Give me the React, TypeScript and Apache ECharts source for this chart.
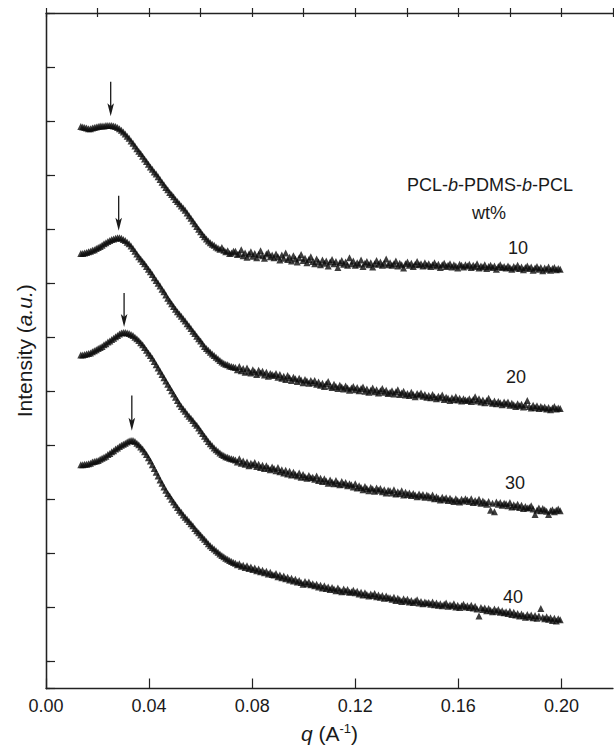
import React, { useEffect, useRef } from 'react';
import * as echarts from 'echarts';

// q values (Å^-1)
const Q = [
  0.01350, 0.01425, 0.01500, 0.01575, 0.01650, 0.01725, 0.01800, 0.01875, 0.01950, 0.02025, 0.02100, 0.02175, 0.02250, 0.02325, 0.02400, 0.02475, 0.02550, 0.02625, 0.02700, 0.02775,
  0.02850, 0.02925, 0.03000, 0.03075, 0.03150, 0.03225, 0.03300, 0.03375, 0.03450, 0.03525, 0.03600, 0.03675, 0.03750, 0.03825, 0.03900, 0.03975, 0.04050, 0.04125, 0.04200, 0.04275,
  0.04350, 0.04425, 0.04500, 0.04575, 0.04650, 0.04725, 0.04800, 0.04875, 0.04950, 0.05025, 0.05100, 0.05175, 0.05250, 0.05325, 0.05400, 0.05475, 0.05550, 0.05625, 0.05700, 0.05775,
  0.05850, 0.05925, 0.06000, 0.06075, 0.06150, 0.06225, 0.06300, 0.06375, 0.06450, 0.06525, 0.06600, 0.06675, 0.06750, 0.06825, 0.06900, 0.06975, 0.07050, 0.07125, 0.07200, 0.07275,
  0.07350, 0.07425, 0.07500, 0.07575, 0.07650, 0.07725, 0.07800, 0.07875, 0.07950, 0.08025, 0.08100, 0.08175, 0.08250, 0.08325, 0.08400, 0.08475, 0.08550, 0.08625, 0.08700, 0.08775,
  0.08850, 0.08925, 0.09000, 0.09075, 0.09150, 0.09225, 0.09300, 0.09375, 0.09450, 0.09525, 0.09600, 0.09675, 0.09750, 0.09825, 0.09900, 0.09975, 0.10050, 0.10125, 0.10200, 0.10275,
  0.10350, 0.10425, 0.10500, 0.10575, 0.10650, 0.10725, 0.10800, 0.10875, 0.10950, 0.11025, 0.11100, 0.11175, 0.11250, 0.11325, 0.11400, 0.11475, 0.11550, 0.11625, 0.11700, 0.11775,
  0.11850, 0.11925, 0.12000, 0.12075, 0.12150, 0.12225, 0.12300, 0.12375, 0.12450, 0.12525, 0.12600, 0.12675, 0.12750, 0.12825, 0.12900, 0.12975, 0.13050, 0.13125, 0.13200, 0.13275,
  0.13350, 0.13425, 0.13500, 0.13575, 0.13650, 0.13725, 0.13800, 0.13875, 0.13950, 0.14025, 0.14100, 0.14175, 0.14250, 0.14325, 0.14400, 0.14475, 0.14550, 0.14625, 0.14700, 0.14775,
  0.14850, 0.14925, 0.15000, 0.15075, 0.15150, 0.15225, 0.15300, 0.15375, 0.15450, 0.15525, 0.15600, 0.15675, 0.15750, 0.15825, 0.15900, 0.15975, 0.16050, 0.16125, 0.16200, 0.16275,
  0.16350, 0.16425, 0.16500, 0.16575, 0.16650, 0.16725, 0.16800, 0.16875, 0.16950, 0.17025, 0.17100, 0.17175, 0.17250, 0.17325, 0.17400, 0.17475, 0.17550, 0.17625, 0.17700, 0.17775,
  0.17850, 0.17925, 0.18000, 0.18075, 0.18150, 0.18225, 0.18300, 0.18375, 0.18450, 0.18525, 0.18600, 0.18675, 0.18750, 0.18825, 0.18900, 0.18975, 0.19050, 0.19125, 0.19200, 0.19275,
  0.19350, 0.19425, 0.19500, 0.19575, 0.19650, 0.19725, 0.19800, 0.19875, 0.19950,
];

// Intensity (a.u., curves shifted vertically) for each wt%
const I10 = [
  10.40, 10.39, 10.38, 10.37, 10.36, 10.36, 10.37, 10.38, 10.39, 10.40, 10.41, 10.41, 10.41, 10.42, 10.42, 10.42, 10.42, 10.41, 10.40, 10.38,
  10.36, 10.33, 10.30, 10.26, 10.22, 10.18, 10.13, 10.09, 10.04, 9.99, 9.94, 9.90, 9.85, 9.80, 9.75, 9.70, 9.65, 9.61, 9.56, 9.52,
  9.47, 9.42, 9.37, 9.32, 9.27, 9.23, 9.18, 9.14, 9.10, 9.05, 9.01, 8.97, 8.93, 8.89, 8.85, 8.80, 8.75, 8.70, 8.65, 8.60,
  8.55, 8.50, 8.45, 8.40, 8.36, 8.32, 8.28, 8.25, 8.22, 8.20, 8.17, 8.15, 8.13, 8.16, 8.11, 8.08, 8.10, 8.05, 8.06, 8.09,
  8.09, 8.03, 8.05, 8.12, 8.01, 8.06, 7.98, 8.04, 8.08, 8.00, 8.05, 7.97, 8.03, 8.10, 8.01, 7.96, 8.04, 8.07, 7.99, 8.02,
  7.97, 8.04, 7.99, 7.93, 8.02, 7.96, 8.06, 7.94, 7.98, 7.91, 8.01, 7.95, 7.89, 7.97, 8.03, 7.92, 7.96, 7.88, 7.94, 7.99,
  7.90, 7.86, 7.95, 7.89, 7.84, 7.93, 7.87, 7.91, 7.82, 7.89, 7.94, 7.86, 7.90, 7.79, 7.88, 7.92, 7.85, 7.89, 7.83, 7.97,
  7.86, 7.91, 7.83, 7.88, 7.85, 7.93, 7.81, 7.87, 7.90, 7.84, 7.88, 7.80, 7.86, 7.92, 7.85, 7.89, 7.83, 7.87, 7.95, 7.84,
  7.88, 7.83, 7.86, 7.91, 7.82, 7.87, 7.84, 7.78, 7.86, 7.89, 7.83, 7.87, 7.81, 7.85, 7.90, 7.84, 7.86, 7.82, 7.88, 7.83,
  7.86, 7.81, 7.84, 7.88, 7.82, 7.85, 7.79, 7.84, 7.87, 7.81, 7.83, 7.86, 7.80, 7.84, 7.82, 7.78, 7.85, 7.83, 7.80, 7.84,
  7.82, 7.85, 7.79, 7.83, 7.81, 7.86, 7.78, 7.82, 7.80, 7.84, 7.77, 7.81, 7.83, 7.79, 7.82, 7.76, 7.81, 7.84, 7.79, 7.81,
  7.78, 7.82, 7.79, 7.76, 7.81, 7.78, 7.83, 7.77, 7.80, 7.75, 7.79, 7.82, 7.77, 7.80, 7.74, 7.78, 7.81, 7.76, 7.79, 7.73,
  7.78, 7.76, 7.80, 7.74, 7.77, 7.79, 7.75, 7.77, 7.76,
];

const I20 = [
  8.05, 8.05, 8.06, 8.07, 8.08, 8.09, 8.11, 8.12, 8.14, 8.16, 8.18, 8.20, 8.23, 8.25, 8.27, 8.29, 8.31, 8.32, 8.33, 8.34,
  8.34, 8.33, 8.31, 8.29, 8.26, 8.23, 8.19, 8.14, 8.09, 8.04, 7.99, 7.95, 7.90, 7.86, 7.81, 7.76, 7.71, 7.66, 7.60, 7.55,
  7.50, 7.45, 7.39, 7.34, 7.28, 7.22, 7.17, 7.12, 7.07, 7.02, 6.97, 6.93, 6.89, 6.84, 6.80, 6.75, 6.71, 6.66, 6.61, 6.57,
  6.52, 6.47, 6.43, 6.38, 6.33, 6.29, 6.26, 6.22, 6.19, 6.16, 6.13, 6.10, 6.07, 6.04, 6.02, 6.00, 5.99, 5.97, 5.96, 5.95,
  5.94, 5.90, 5.96, 5.88, 5.92, 5.85, 5.93, 5.87, 5.84, 5.90, 5.86, 5.81, 5.89, 5.84, 5.87, 5.80, 5.85, 5.78, 5.83, 5.81,
  5.79, 5.83, 5.76, 5.81, 5.74, 5.78, 5.72, 5.79, 5.75, 5.70, 5.76, 5.73, 5.68, 5.74, 5.71, 5.66, 5.72, 5.69, 5.65, 5.70,
  5.66, 5.70, 5.63, 5.67, 5.61, 5.65, 5.59, 5.64, 5.68, 5.60, 5.57, 5.63, 5.59, 5.55, 5.61, 5.58, 5.54, 5.60, 5.56, 5.52,
  5.56, 5.59, 5.53, 5.57, 5.51, 5.55, 5.58, 5.50, 5.54, 5.48, 5.52, 5.56, 5.49, 5.53, 5.47, 5.51, 5.55, 5.48, 5.52, 5.46,
  5.48, 5.51, 5.45, 5.49, 5.53, 5.44, 5.47, 5.50, 5.43, 5.46, 5.42, 5.48, 5.44, 5.40, 5.46, 5.43, 5.47, 5.41, 5.44, 5.39,
  5.42, 5.38, 5.44, 5.40, 5.36, 5.41, 5.38, 5.43, 5.35, 5.39, 5.37, 5.33, 5.38, 5.35, 5.40, 5.34, 5.37, 5.32, 5.36, 5.34,
  5.33, 5.36, 5.31, 5.35, 5.40, 5.32, 5.36, 5.30, 5.34, 5.29, 5.33, 5.37, 5.30, 5.28, 5.32, 5.27, 5.31, 5.29, 5.25, 5.30,
  5.27, 5.30, 5.24, 5.28, 5.25, 5.22, 5.27, 5.23, 5.26, 5.21, 5.25, 5.33, 5.22, 5.19, 5.24, 5.20, 5.23, 5.18, 5.22, 5.19,
  5.21, 5.17, 5.20, 5.16, 5.19, 5.22, 5.17, 5.19, 5.18,
];

const I30 = [
  6.17, 6.17, 6.18, 6.19, 6.20, 6.21, 6.23, 6.25, 6.27, 6.29, 6.31, 6.33, 6.36, 6.38, 6.41, 6.43, 6.46, 6.48, 6.51, 6.53,
  6.56, 6.58, 6.59, 6.59, 6.58, 6.57, 6.55, 6.53, 6.50, 6.47, 6.44, 6.40, 6.36, 6.31, 6.26, 6.21, 6.16, 6.11, 6.05, 5.99,
  5.93, 5.87, 5.81, 5.75, 5.69, 5.63, 5.57, 5.51, 5.45, 5.39, 5.33, 5.27, 5.22, 5.17, 5.13, 5.08, 5.04, 5.00, 4.96, 4.91,
  4.87, 4.82, 4.77, 4.72, 4.67, 4.62, 4.57, 4.53, 4.49, 4.45, 4.42, 4.39, 4.36, 4.33, 4.31, 4.29, 4.28, 4.26, 4.25, 4.24,
  4.23, 4.19, 4.25, 4.17, 4.21, 4.15, 4.19, 4.12, 4.17, 4.14, 4.18, 4.11, 4.15, 4.09, 4.13, 4.07, 4.12, 4.08, 4.05, 4.10,
  4.07, 4.03, 4.09, 4.01, 4.05, 3.99, 4.04, 3.97, 4.02, 3.95, 4.00, 3.96, 3.93, 3.99, 3.91, 3.96, 3.92, 3.89, 3.94, 3.90,
  3.91, 3.87, 3.93, 3.85, 3.89, 3.83, 3.88, 3.84, 3.80, 3.86, 3.82, 3.79, 3.85, 3.80, 3.77, 3.83, 3.78, 3.81, 3.75, 3.79,
  3.77, 3.73, 3.79, 3.71, 3.75, 3.72, 3.68, 3.74, 3.70, 3.66, 3.72, 3.69, 3.65, 3.71, 3.67, 3.70, 3.64, 3.68, 3.62, 3.67,
  3.66, 3.62, 3.68, 3.60, 3.64, 3.61, 3.66, 3.58, 3.63, 3.59, 3.62, 3.57, 3.61, 3.58, 3.55, 3.60, 3.56, 3.59, 3.54, 3.58,
  3.56, 3.53, 3.58, 3.51, 3.55, 3.52, 3.49, 3.54, 3.50, 3.53, 3.48, 3.52, 3.49, 3.46, 3.51, 3.48, 3.45, 3.50, 3.47, 3.51,
  3.49, 3.46, 3.51, 3.44, 3.48, 3.45, 3.50, 3.43, 3.47, 3.44, 3.41, 3.46, 3.30, 3.43, 3.27, 3.45, 3.41, 3.44, 3.39, 3.43,
  3.42, 3.38, 3.44, 3.36, 3.40, 3.37, 3.41, 3.35, 3.39, 3.33, 3.37, 3.34, 3.35, 3.38, 3.32, 3.22, 3.30, 3.34, 3.29, 3.33,
  3.31, 3.28, 3.22, 3.29, 3.31, 3.27, 3.30, 3.32, 3.29,
];

const I40 = [
  4.14, 4.14, 4.15, 4.15, 4.16, 4.17, 4.19, 4.20, 4.21, 4.22, 4.24, 4.26, 4.28, 4.30, 4.33, 4.35, 4.38, 4.40, 4.43, 4.45,
  4.48, 4.50, 4.52, 4.54, 4.56, 4.58, 4.59, 4.59, 4.57, 4.54, 4.51, 4.47, 4.43, 4.38, 4.33, 4.27, 4.21, 4.14, 4.07, 4.00,
  3.93, 3.86, 3.80, 3.73, 3.67, 3.61, 3.56, 3.50, 3.45, 3.40, 3.35, 3.30, 3.26, 3.21, 3.17, 3.13, 3.09, 3.05, 3.01, 2.96,
  2.92, 2.88, 2.84, 2.80, 2.76, 2.72, 2.68, 2.64, 2.61, 2.58, 2.55, 2.52, 2.49, 2.46, 2.44, 2.41, 2.39, 2.37, 2.35, 2.33,
  2.32, 2.29, 2.31, 2.26, 2.28, 2.24, 2.27, 2.22, 2.25, 2.20, 2.23, 2.18, 2.21, 2.16, 2.19, 2.14, 2.17, 2.12, 2.15, 2.11,
  2.10, 2.13, 2.07, 2.10, 2.05, 2.08, 2.03, 2.06, 2.01, 2.04, 1.99, 2.02, 1.97, 2.00, 1.96, 1.93, 1.98, 1.94, 1.97, 1.92,
  1.94, 1.90, 1.93, 1.88, 1.91, 1.86, 1.90, 1.85, 1.88, 1.83, 1.87, 1.84, 1.81, 1.86, 1.82, 1.79, 1.84, 1.80, 1.83, 1.78,
  1.79, 1.82, 1.77, 1.80, 1.75, 1.78, 1.73, 1.77, 1.74, 1.71, 1.75, 1.72, 1.76, 1.70, 1.73, 1.69, 1.72, 1.67, 1.71, 1.68,
  1.68, 1.65, 1.69, 1.63, 1.67, 1.64, 1.61, 1.66, 1.62, 1.65, 1.60, 1.63, 1.59, 1.62, 1.64, 1.58, 1.61, 1.57, 1.60, 1.58,
  1.59, 1.56, 1.60, 1.55, 1.58, 1.54, 1.57, 1.53, 1.56, 1.58, 1.52, 1.55, 1.53, 1.57, 1.51, 1.54, 1.50, 1.53, 1.56, 1.51,
  1.53, 1.50, 1.54, 1.49, 1.52, 1.47, 1.34, 1.50, 1.46, 1.49, 1.44, 1.48, 1.45, 1.42, 1.47, 1.43, 1.46, 1.41, 1.44, 1.40,
  1.42, 1.39, 1.43, 1.37, 1.41, 1.36, 1.39, 1.34, 1.38, 1.35, 1.32, 1.37, 1.33, 1.36, 1.31, 1.35, 1.30, 1.34, 1.48, 1.32,
  1.29, 1.33, 1.28, 1.31, 1.26, 1.30, 1.25, 1.29, 1.27,
];

const SERIES_NAMES = ['10', '20', '30', '40'];

// Arrows marking the peak positions
const ARROW_Q = [0.0251, 0.0282, 0.0303, 0.0333];
const ARROW_TOP = [11.23, 9.12, 7.32, 5.42];
const ARROW_TIP = [10.59, 8.47, 6.69, 4.77];

export default function App() {
  const ref = useRef<HTMLDivElement>(null);

  useEffect(() => {
    if (!ref.current) return;
    const chart = echarts.init(ref.current, null, { renderer: 'svg' });
    const font = "'Liberation Sans', Arial, Helvetica, sans-serif";
    const ink = '#1a1a1a';
    const axisLine = { show: true, lineStyle: { color: '#222', width: 1.3 } };
    const tickStyle = { color: '#222', width: 1.2 };

    const mk = (vals: number[]) =>
      Q.map((q, i) => [q, vals[i]]).filter((p) => p[1] !== undefined);
    const allVals = [I10, I20, I30, I40];
    const scatterSeries = allVals.map((vals, k) => ({
      type: 'scatter',
      name: SERIES_NAMES[k],
      xAxisIndex: 0,
      yAxisIndex: 0,
      data: mk(vals),
      symbol: 'triangle',
      symbolSize: 7,
      itemStyle: { color: '#0d0d0d' },
      silent: true,
    }));

    const arrowSeries = {
      type: 'custom',
      xAxisIndex: 0,
      yAxisIndex: 0,
      silent: true,
      clip: false,
      encode: { x: 0, y: [1, 2] },
      data: ARROW_Q.map((q, i) => [q, ARROW_TOP[i], ARROW_TIP[i]]),
      renderItem: (_params: any, api: any) => {
        const p1 = api.coord([api.value(0), api.value(1)]);
        const p2 = api.coord([api.value(0), api.value(2)]);
        const x = p2[0];
        const yt = p2[1];
        return {
          type: 'group',
          children: [
            {
              type: 'line',
              shape: { x1: p1[0], y1: p1[1], x2: x, y2: yt - 8 },
              style: { stroke: ink, lineWidth: 1.3 },
            },
            {
              type: 'polygon',
              shape: { points: [[x, yt], [x - 3.3, yt - 13], [x, yt - 10], [x + 3.3, yt - 13]] },
              style: { fill: ink },
            },
          ],
        };
      },
    };

    const txt = (text: string, x: number, y: number, extraRich?: any) => ({
      type: 'text',
      x,
      y,
      silent: true,
      style: {
        text,
        fontSize: 18,
        fontFamily: font,
        fill: ink,
        align: 'center',
        verticalAlign: 'middle',
        rich: extraRich,
      },
    });

    const richN = { fontSize: 18, fontFamily: font, color: ink };
    const richI = { fontSize: 18, fontFamily: font, color: ink, fontStyle: 'italic' };

    chart.setOption({
      animation: false,
      backgroundColor: '#ffffff',
      grid: { left: 46, right: 1, top: 13, bottom: 56 },
      xAxis: [
        {
          type: 'value',
          position: 'bottom',
          min: 0,
          max: 0.22,
          interval: 0.04,
          axisLine,
          axisTick: { inside: true, length: 10, lineStyle: tickStyle },
          axisLabel: {
            formatter: (v: number) => v.toFixed(2),
            showMaxLabel: false,
            fontSize: 18,
            color: ink,
            fontFamily: font,
            margin: 8,
          },
          splitLine: { show: false },
          name: '{i|q}{n| (A}{s|-1}{n|)}',
          nameLocation: 'middle',
          nameGap: 33,
          nameTextStyle: {
            rich: {
              i: { fontSize: 21, fontFamily: font, color: ink, fontStyle: 'italic', lineHeight: 24 },
              n: { fontSize: 21, fontFamily: font, color: ink, lineHeight: 24 },
              s: { fontSize: 13, fontFamily: font, color: ink, verticalAlign: 'top', lineHeight: 24 },
            },
          },
        },
        {
          type: 'value',
          position: 'bottom',
          min: 0,
          max: 0.22,
          interval: 0.02,
          axisLine: { show: false },
          axisTick: { inside: true, length: 5, lineStyle: tickStyle },
          axisLabel: { show: false },
          splitLine: { show: false },
        },
        {
          type: 'value',
          position: 'top',
          min: 0,
          max: 0.22,
          interval: 0.02,
          axisLine,
          axisTick: { inside: true, length: 4, lineStyle: tickStyle },
          axisLabel: { show: false },
          splitLine: { show: false },
        },
      ],
      yAxis: [
        {
          type: 'value',
          position: 'left',
          min: 0,
          max: 12.5,
          axisLine,
          axisTick: { show: false },
          axisLabel: { show: false },
          splitLine: { show: false },
          name: '{n|Intensity (}{i|a.u.}{n|)}',
          nameLocation: 'middle',
          nameGap: 10,
          nameTextStyle: {
            rich: {
              n: { fontSize: 21, fontFamily: font, color: ink, lineHeight: 24 },
              i: { fontSize: 21, fontFamily: font, color: ink, fontStyle: 'italic', lineHeight: 24 },
            },
          },
        },
        {
          type: 'value',
          position: 'left',
          inverse: true,
          min: 0,
          max: 12.5,
          interval: 1,
          axisLine: { show: false },
          axisTick: { inside: true, length: 9, lineStyle: tickStyle },
          axisLabel: { show: false },
          splitLine: { show: false },
        },
        {
          type: 'value',
          position: 'right',
          inverse: true,
          min: 0,
          max: 12.5,
          interval: 1,
          axisLine,
          axisTick: { inside: false, length: 4, lineStyle: tickStyle },
          axisLabel: { show: false },
          splitLine: { show: false },
        },
      ],
      series: [...scatterSeries, arrowSeries],
      graphic: [
        txt('{n|PCL-}{i|b}{n|-PDMS-}{i|b}{n|-PCL}', 490, 185, { n: richN, i: richI }),
        txt('wt%', 489, 213),
        txt(SERIES_NAMES[0], 518, 248),
        txt(SERIES_NAMES[1], 516, 377),
        txt(SERIES_NAMES[2], 515, 483),
        txt(SERIES_NAMES[3], 513, 597),
      ],
    });

    return () => {
      chart.dispose();
    };
  }, []);

  return (
    <div
      ref={ref}
      style={{ position: 'absolute', left: 0, top: 0, width: 614, height: 749, background: '#fff' }}
    />
  );
}
